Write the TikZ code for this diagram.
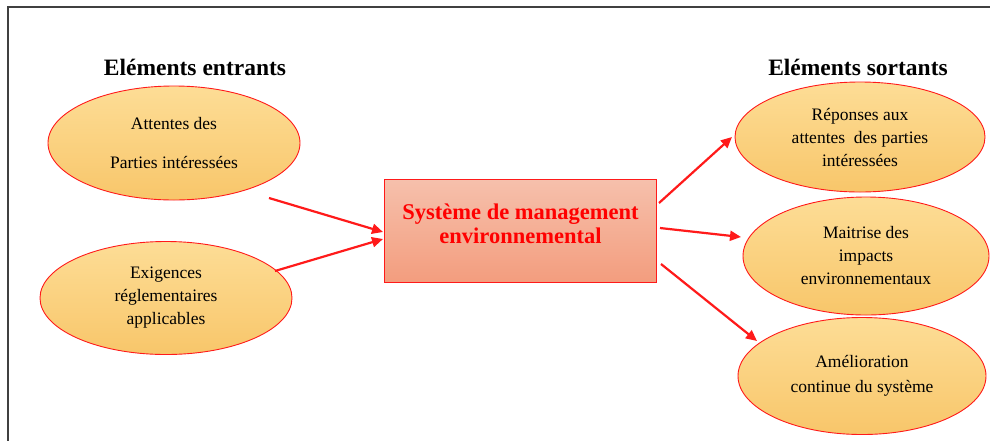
\documentclass[tikz,border=0pt]{standalone}
\usepackage{fontspec}
\setmainfont{Liberation Serif}
\usetikzlibrary{arrows.meta,shapes.geometric}

\definecolor{ellTop}{HTML}{FDDD96}
\definecolor{ellBot}{HTML}{F8C66A}
\definecolor{boxTop}{HTML}{F6C0AC}
\definecolor{boxBot}{HTML}{F39D7E}
\definecolor{frameGray}{HTML}{404040}
\definecolor{redline}{HTML}{FF1A1A}

\tikzset{
  bubble/.style={ellipse, draw=redline, line width=0.9pt,
    top color=ellTop, bottom color=ellBot, inner sep=0pt,
    align=center, font=\fontsize{17.5}{23}\selectfont},
  sysbox/.style={rectangle, draw=redline, line width=1pt,
    top color=boxTop, bottom color=boxBot, inner sep=0pt,
    align=center, text=red, font=\bfseries\fontsize{22.5}{25}\selectfont},
  heading/.style={font=\bfseries\fontsize{23.5}{26}\selectfont},
  flow/.style={draw=redline, line width=2.2pt,
    -{Triangle[length=11pt,width=10pt]}}
}

\begin{document}
\begin{tikzpicture}[x=1pt,y=-1pt]
  \useasboundingbox (0,0) rectangle (990,440);
  % outer frame, open on the right and bottom
  \draw[frameGray, line width=1.8pt] (8,441) -- (8,7) -- (991,7);

  % headings
  \node[heading] (hin)  at (195,67) {Eléments entrants};
  \node[heading] (hout) at (858,67) {Eléments sortants};

  % inputs
  \node[bubble, minimum width=252pt, minimum height=114pt] (in1) at (174,143)
    {Attentes des\\[16pt] Parties intéressées};
  \node[bubble, minimum width=252pt, minimum height=113pt] (in2) at (166,298)
    {Exigences\\ réglementaires\\ applicables};

  % central system, text sitting a little above the middle
  \node[sysbox, minimum width=272pt, minimum height=103pt, text depth=13pt]
    (sys) at (520.5,230.5)
    {Système de management\\[-1pt] environnemental};

  % outputs
  \node[bubble, minimum width=250pt, minimum height=110pt] (out1) at (860,137)
    {Réponses aux\\ attentes\ \ des parties\\ intéressées};
  \node[bubble, minimum width=246pt, minimum height=118pt] (out2) at (866,256)
    {Maitrise des\\ impacts\\ environnementaux};
  \node[bubble, minimum width=248pt, minimum height=117pt] (out3) at (862,376)
    {Amélioration\\[2pt] continue du système};

  % arrows into the system
  \coordinate (a1s) at (269,198);
  \coordinate (a2s) at (275,271);
  \coordinate (a1e) at (383,232);
  \coordinate (a2e) at (383,239);
  \draw[flow] (a1s) -- (a1e);
  \draw[flow] (a2s) -- (a2e);

  % arrows out of the system
  \coordinate (b1s) at (659,203);
  \coordinate (b2s) at (660,228);
  \coordinate (b3s) at (661,264);
  \coordinate (b1e) at (732,137);
  \coordinate (b2e) at (741,237);
  \coordinate (b3e) at (757,341);
  \draw[flow] (b1s) -- (b1e);
  \draw[flow] (b2s) -- (b2e);
  \draw[flow] (b3s) -- (b3e);
\end{tikzpicture}
\end{document}
